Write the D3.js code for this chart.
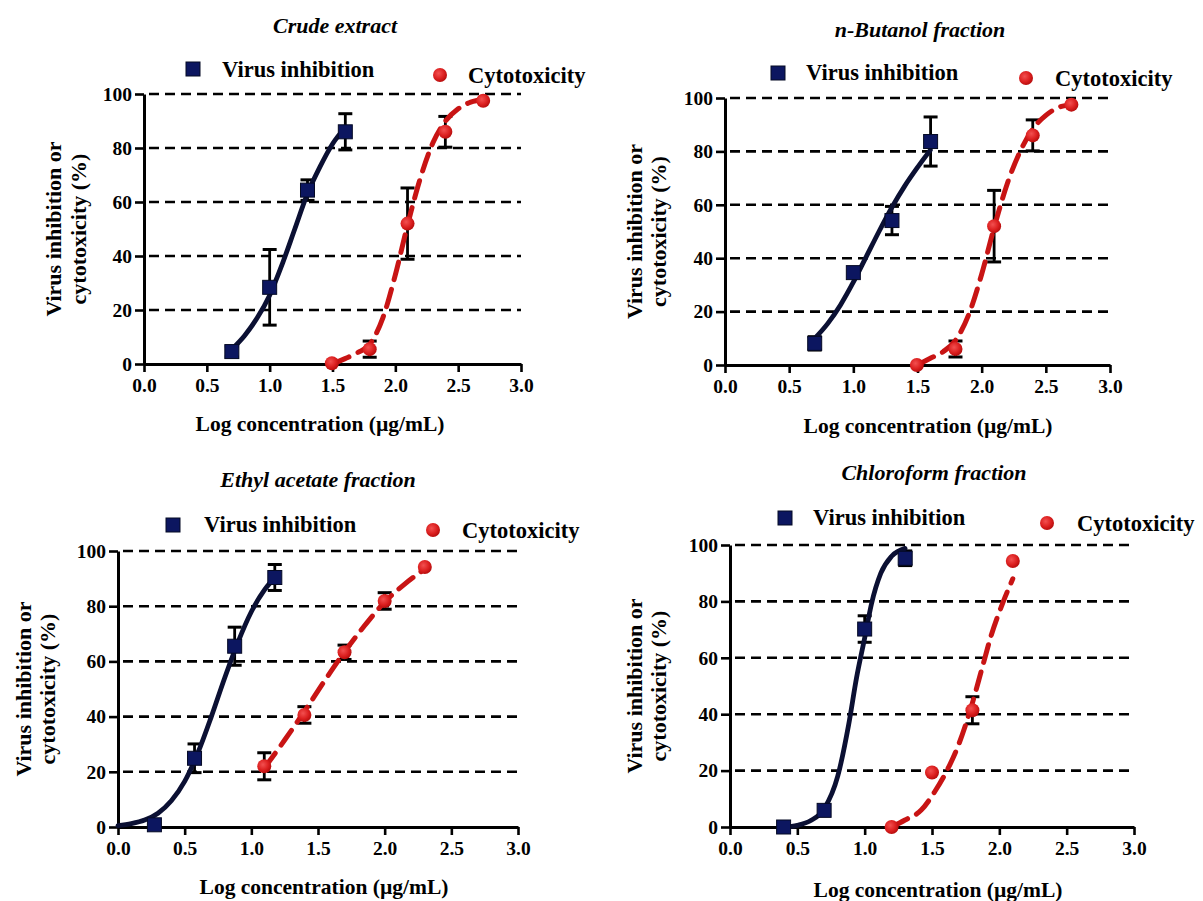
<!DOCTYPE html>
<html>
<head>
<meta charset="utf-8">
<script src="https://cdn.jsdelivr.net/npm/d3@7"></script>
<style>
  html, body { margin: 0; padding: 0; background: #ffffff; }
  svg { display: block; }
</style>
</head>
<body>
<script>
// ---------------- DATA ----------------
const panelTitles = ["Crude extract", "n-Butanol fraction", "Ethyl acetate fraction", "Chloroform fraction"];
const legendLabels = ["Virus inhibition", "Cytotoxicity"];
const xTickValues = [0.0, 0.5, 1.0, 1.5, 2.0, 2.5, 3.0];
const yTickValues = [0, 20, 40, 60, 80, 100];
const xAxisTitle = "Log concentration (µg/mL)";
const yAxisTitleLines = ["Virus inhibition or", "cytotoxicity (%)"];

// Crude extract
const crudeVirusX = [0.699, 1.0, 1.301, 1.602];
const crudeVirusY = [4.6, 28.4, 64.4, 86];
const crudeVirusErr = [2, 14, 3.8, 6.7];
const crudeCytoX = [1.495, 1.796, 2.097, 2.398, 2.699];
const crudeCytoY = [0.3, 5.5, 52, 86, 97.5];
const crudeCytoErr = [0, 3, 13.2, 5.7, 0];
const crudeVirusCurve = [[0.7,5.5],[0.8,10.5],[0.9,17],[1.0,25.5],[1.1,37],[1.2,50],[1.3,63],[1.4,73],[1.5,81.5],[1.6,87.5]];
const crudeCytoCurve = [[1.5,0],[1.6,2],[1.7,4.2],[1.8,7.5],[1.9,17],[2.0,33],[2.1,52],[2.2,69],[2.3,82],[2.4,90],[2.5,94.5],[2.6,97],[2.7,98]];

// n-Butanol fraction
const butanolVirusX = [0.699, 1.0, 1.301, 1.602];
const butanolVirusY = [8.1, 34.6, 54.1, 83.7];
const butanolVirusErr = [2.5, 0, 5.3, 9.2];
const butanolCytoX = [1.495, 1.796, 2.097, 2.398, 2.699];
const butanolCytoY = [0, 6, 52, 86, 97.5];
const butanolCytoErr = [0, 3, 13.4, 5.8, 0];
const butanolVirusCurve = [[0.7,10],[0.8,15.5],[0.9,22.5],[1.0,31],[1.1,40.5],[1.2,50],[1.3,59],[1.4,67],[1.5,74],[1.6,80.5]];
const butanolCytoCurve = [[1.5,0],[1.6,2.5],[1.7,5],[1.8,9.5],[1.9,19],[2.0,34],[2.1,52],[2.2,68],[2.3,80],[2.4,88.5],[2.5,93.5],[2.6,96.5],[2.7,97.5]];

// Ethyl acetate fraction
const ethylVirusX = [0.273, 0.574, 0.875, 1.176];
const ethylVirusY = [0.8, 24.9, 65.5, 90.4];
const ethylVirusErr = [0, 5.2, 6.9, 4.7];
const ethylCytoX = [1.097, 1.398, 1.699, 2.0, 2.301];
const ethylCytoY = [22, 40.6, 63.3, 81.9, 94.2];
const ethylCytoErr = [4.9, 3, 2.6, 3, 0];
const ethylVirusCurve = [[0,0.5],[0.1,1.2],[0.2,2.5],[0.3,5],[0.4,9.5],[0.5,16.5],[0.6,27],[0.7,40],[0.8,54],[0.9,67],[1.0,78],[1.1,86],[1.18,90.5]];
const ethylCytoCurve = [[1.1,21.5],[1.25,31.5],[1.4,42],[1.55,53],[1.7,63.5],[1.85,73],[2.0,81.5],[2.15,88],[2.3,93.5]];

// Chloroform fraction
const chloroVirusX = [0.398, 0.699, 1.0, 1.301];
const chloroVirusY = [0, 5.9, 70.2, 95.3];
const chloroVirusErr = [0, 0, 4.7, 2.6];
const chloroCytoX = [1.2, 1.5, 1.8, 2.1];
const chloroCytoY = [0, 19.3, 41.4, 94.3];
const chloroCytoErr = [0, 0, 4.8, 0];
const chloroVirusCurve = [[0.4,0],[0.5,0.6],[0.6,2.3],[0.7,6.5],[0.8,18],[0.88,36],[0.94,53],[1.0,67],[1.05,79],[1.12,90],[1.2,96],[1.3,98.8]];
const chloroCytoCurve = [[1.2,0],[1.3,2.5],[1.42,6],[1.52,12.5],[1.6,19],[1.7,29.5],[1.8,44],[1.87,56],[1.94,68],[2.03,80],[2.1,88]];

// ---------------- LAYOUT ----------------
const FONT = '"Liberation Serif"';
const panels = [
  { title: panelTitles[0], vx: crudeVirusX, vy: crudeVirusY, ve: crudeVirusErr, cx: crudeCytoX, cy: crudeCytoY, ce: crudeCytoErr,
    vc: crudeVirusCurve, cc: crudeCytoCurve,
    x0: 144, x1: 521, yTop: 94, yBot: 364, titleX: 335, titleY: 33,
    sq: [193, 69], vText: [222, 77], dot: [440, 75], cText: [468, 83],
    yT: [61, 86], xT: [320, 431] },
  { title: panelTitles[1], vx: butanolVirusX, vy: butanolVirusY, ve: butanolVirusErr, cx: butanolCytoX, cy: butanolCytoY, ce: butanolCytoErr,
    vc: butanolVirusCurve, cc: butanolCytoCurve,
    x0: 725, x1: 1110, yTop: 98, yBot: 365, titleX: 920, titleY: 37,
    sq: [778, 73], vText: [806, 80], dot: [1026, 78], cText: [1055, 86],
    yT: [642, 666], xT: [928, 433] },
  { title: panelTitles[2], vx: ethylVirusX, vy: ethylVirusY, ve: ethylVirusErr, cx: ethylCytoX, cy: ethylCytoY, ce: ethylCytoErr,
    vc: ethylVirusCurve, cc: ethylCytoCurve,
    x0: 118, x1: 518, yTop: 551, yBot: 827, titleX: 318, titleY: 487,
    sq: [173, 525], vText: [204, 532], dot: [433, 530], cText: [462, 538],
    yT: [31, 55], xT: [324, 894] },
  { title: panelTitles[3], vx: chloroVirusX, vy: chloroVirusY, ve: chloroVirusErr, cx: chloroCytoX, cy: chloroCytoY, ce: chloroCytoErr,
    vc: chloroVirusCurve, cc: chloroCytoCurve,
    x0: 730, x1: 1134, yTop: 545, yBot: 827, titleX: 934, titleY: 480,
    sq: [785, 518], vText: [813, 525], dot: [1047, 523], cText: [1077, 531],
    yT: [642, 666], xT: [938, 897] }
];

const NAVY_FILL = "#0c1660";
const NAVY_LINE = "#0b1033";
const RED_LINE = "#c81414";

const svg = d3.select("body").append("svg").attr("width", 1203).attr("height", 901);
const defs = svg.append("defs");
const grad = defs.append("radialGradient").attr("id", "redDot").attr("cx", "40%").attr("cy", "38%").attr("r", "65%");
grad.append("stop").attr("offset", "0%").attr("stop-color", "#f25050");
grad.append("stop").attr("offset", "60%").attr("stop-color", "#dc2020");
grad.append("stop").attr("offset", "100%").attr("stop-color", "#b40c0c");

function txt(sel, size) {
  return sel.style("font-family", FONT).style("font-weight", "bold").style("font-size", size + "px").style("fill", "#000");
}

panels.forEach(p => {
  const g = svg.append("g");
  const x = d3.scaleLinear().domain([0, 3]).range([p.x0, p.x1]);
  const y = d3.scaleLinear().domain([0, 100]).range([p.yBot, p.yTop]);

  // title
  txt(g.append("text").attr("x", p.titleX).attr("y", p.titleY).attr("text-anchor", "middle"), 22)
    .style("font-style", "italic").text(p.title);

  // legend
  g.append("rect").attr("x", p.sq[0] - 7).attr("y", p.sq[1] - 7).attr("width", 14).attr("height", 14)
    .attr("fill", NAVY_FILL).attr("stroke", "#050a25").attr("stroke-width", 1);
  txt(g.append("text").attr("x", p.vText[0]).attr("y", p.vText[1]), 22.5).text(legendLabels[0]);
  g.append("circle").attr("cx", p.dot[0]).attr("cy", p.dot[1]).attr("r", 7).attr("fill", "url(#redDot)");
  txt(g.append("text").attr("x", p.cText[0]).attr("y", p.cText[1]), 22.5).text(legendLabels[1]);

  // gridlines
  g.append("g").selectAll("line").data(yTickValues.filter(v => v > 0)).join("line")
    .attr("x1", x(0) + 5).attr("x2", x(3)).attr("y1", d => y(d)).attr("y2", d => y(d))
    .attr("stroke", "#000").attr("stroke-width", 2.6).attr("stroke-dasharray", "10,6");

  // axes
  const xa = g.append("g").attr("transform", `translate(0,${p.yBot})`)
    .call(d3.axisBottom(x).tickValues(xTickValues).tickFormat(d3.format(".1f")).tickSize(8).tickSizeOuter(0).tickPadding(6));
  const ya = g.append("g").attr("transform", `translate(${p.x0},0)`)
    .call(d3.axisLeft(y).tickValues(yTickValues).tickFormat(d3.format("d")).tickSize(9).tickSizeOuter(0).tickPadding(3));
  [xa, ya].forEach(a => {
    a.attr("font-family", null).attr("font-size", null);
    a.select(".domain").attr("stroke", "#000").attr("stroke-width", 3);
    a.selectAll(".tick line").attr("stroke", "#000").attr("stroke-width", 2.6);
    txt(a.selectAll(".tick text"), 19.5);
  });

  // axis titles
  txt(g.append("text").attr("x", p.xT[0]).attr("y", p.xT[1]).attr("text-anchor", "middle"), 21.5).text(xAxisTitle);
  const yc = (p.yTop + p.yBot) / 2;
  yAxisTitleLines.forEach((t, i) => {
    txt(g.append("text").attr("transform", `translate(${p.yT[i]},${yc}) rotate(-90)`).attr("text-anchor", "middle"), 22).text(t);
  });

  const line = d3.line().x(d => x(d[0])).y(d => y(d[1])).curve(d3.curveMonotoneX);

  // error bars
  const drawErr = (xs, ys, es) => {
    const eb = g.append("g").attr("stroke", "#000").attr("stroke-width", 2.8);
    xs.forEach((xv, i) => {
      if (!es[i]) return;
      const cx = x(xv), top = y(ys[i] + es[i]), bot = y(ys[i] - es[i]);
      eb.append("line").attr("x1", cx).attr("x2", cx).attr("y1", top).attr("y2", bot);
      eb.append("line").attr("x1", cx - 7).attr("x2", cx + 7).attr("y1", top).attr("y2", top).attr("stroke-width", 3);
      eb.append("line").attr("x1", cx - 7).attr("x2", cx + 7).attr("y1", bot).attr("y2", bot).attr("stroke-width", 3);
    });
  };
  drawErr(p.vx, p.vy, p.ve);
  drawErr(p.cx, p.cy, p.ce);

  // curves
  g.append("path").datum(p.vc).attr("d", line).attr("fill", "none")
    .attr("stroke", NAVY_LINE).attr("stroke-width", 4.8).attr("stroke-linecap", "round");
  g.append("path").datum(p.cc).attr("d", line).attr("fill", "none")
    .attr("stroke", RED_LINE).attr("stroke-width", 5).attr("stroke-dasharray", "18,10").attr("stroke-linecap", "round");

  // points
  g.append("g").selectAll("rect").data(p.vx.map((v, i) => [v, p.vy[i]])).join("rect")
    .attr("x", d => x(d[0]) - 7).attr("y", d => y(d[1]) - 7).attr("width", 14).attr("height", 14)
    .attr("fill", NAVY_FILL).attr("stroke", "#050a25").attr("stroke-width", 1);
  g.append("g").selectAll("circle").data(p.cx.map((v, i) => [v, p.cy[i]])).join("circle")
    .attr("cx", d => x(d[0])).attr("cy", d => y(d[1])).attr("r", 7).attr("fill", "url(#redDot)");
});
</script>
</body>
</html>
